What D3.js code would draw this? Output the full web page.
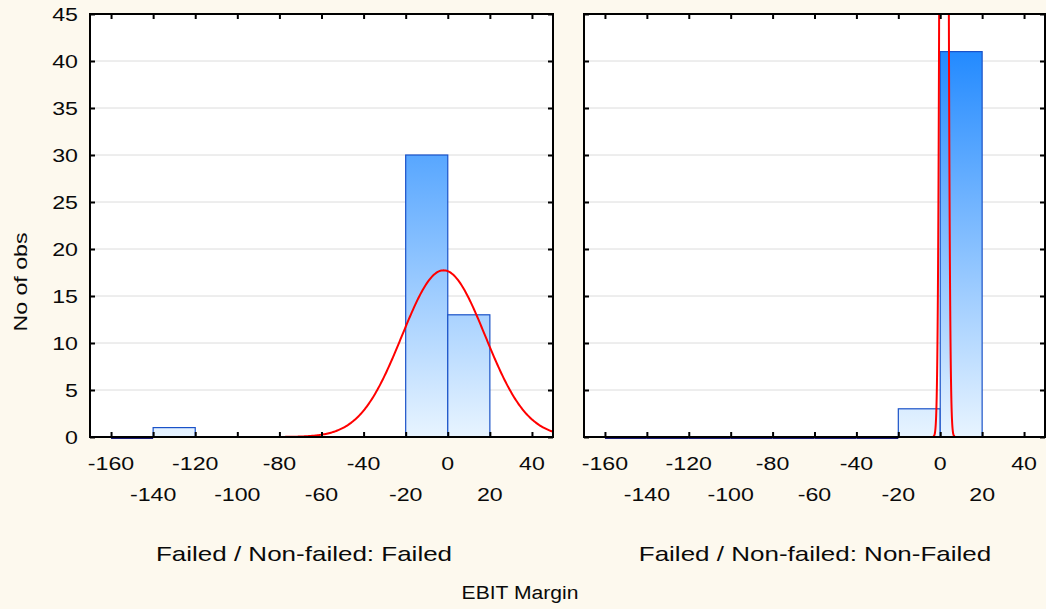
<!DOCTYPE html>
<html>
<head>
<meta charset="utf-8">
<script src="https://cdn.jsdelivr.net/npm/d3@7"></script>
<style>
  html, body { margin: 0; padding: 0; background: #fdf9ee; }
  svg { display: block; }
  text { font-family: "Liberation Sans", Arial, sans-serif; fill: #0a0a0a; }
</style>
</head>
<body>
<svg id="chart" width="1046" height="609"></svg>
<script>
// ---- data ----
const binStarts = [-160, -140, -120, -100, -80, -60, -40, -20, 0];
const binWidth = 20;
const failedCounts = [0, 1, null, null, null, null, null, 30, 13];
const nonFailedCounts = [0, 0, 0, 0, 0, 0, 0, 3, 41];
const xTicks = [-160, -140, -120, -100, -80, -60, -40, -20, 0, 20, 40];
const yTicks = [0, 5, 10, 15, 20, 25, 30, 35, 40, 45];
const failedFit = { mean: -2, sd: 19.8, n: 44 };
const nonFailedFit = { mean: 1.8, sd: 1.2, n: 44 };
const panelTitles = ["Failed / Non-failed: Failed", "Failed / Non-failed: Non-Failed"];
const yTitle = "No of obs";
const xTitle = "EBIT Margin";

// ---- layout ----
const svg = d3.select("#chart");
const W = 1046, H = 609;
svg.append("rect").attr("width", W).attr("height", H).attr("fill", "#fdf9ee");

const plotTop = 14, plotBottom = 437;
const panels = [
  { x0: 90, x1: 553, counts: failedCounts, fit: failedFit, title: panelTitles[0], titleX: 304, showY: true },
  { x0: 584, x1: 1045, counts: nonFailedCounts, fit: nonFailedFit, title: panelTitles[1], titleX: 815, showY: false }
];
const y = d3.scaleLinear().domain([0, 45]).range([plotBottom, plotTop]);

function label(g, x, yy, txt, anchor, fs, sx, rot) {
  return g.append("text")
    .attr("transform", `translate(${x},${yy})` + (rot ? ` rotate(${rot})` : "") + ` scale(${sx},1)`)
    .attr("text-anchor", anchor || "middle")
    .attr("dominant-baseline", "central")
    .style("font-size", fs + "px")
    .text(txt);
}

const defs = svg.append("defs");
const grad = defs.append("linearGradient").attr("id", "barGrad")
  .attr("gradientUnits", "userSpaceOnUse")
  .attr("x1", 0).attr("x2", 0).attr("y1", plotTop).attr("y2", plotBottom);
grad.append("stop").attr("offset", "0%").attr("stop-color", "#1080ff");
grad.append("stop").attr("offset", "100%").attr("stop-color", "#e8f4ff");

panels.forEach((p, i) => {
  const x = d3.scaleLinear().domain([-170, 50]).range([p.x0, p.x1]);
  const g = svg.append("g");
  g.append("rect").attr("x", p.x0).attr("y", plotTop).attr("width", p.x1 - p.x0).attr("height", plotBottom - plotTop).attr("fill", "#fff");

  // gridlines
  g.append("g").selectAll("line").data(yTicks.filter(v => v > 0 && v < 45)).join("line")
    .attr("x1", p.x0).attr("x2", p.x1).attr("y1", d => y(d)).attr("y2", d => y(d))
    .attr("stroke", "#dcdcdc").attr("stroke-width", 1);

  const clipId = "clip" + i;
  defs.append("clipPath").attr("id", clipId).append("rect")
    .attr("x", p.x0).attr("y", plotTop).attr("width", p.x1 - p.x0).attr("height", plotBottom - plotTop + 3);

  // bars
  const bars = binStarts.map((s, k) => ({ s, v: p.counts[k] })).filter(d => d.v !== null);
  g.append("g").selectAll("rect").data(bars.filter(d => d.v > 0)).join("rect")
    .attr("x", d => x(d.s)).attr("width", d => x(d.s + binWidth) - x(d.s))
    .attr("y", d => y(d.v)).attr("height", d => y(0) - y(d.v))
    .attr("fill", "url(#barGrad)").attr("stroke", "#1a52c8").attr("stroke-width", 1.2);
  g.append("g").selectAll("line").data(bars.filter(d => d.v === 0)).join("line")
    .attr("x1", d => x(d.s)).attr("x2", d => x(d.s + binWidth))
    .attr("y1", y(0) + 1).attr("y2", y(0) + 1)
    .attr("stroke", "#1a1a7a").attr("stroke-width", 2);

  // normal fit curve
  const f = p.fit;
  const step = f.sd < 5 ? 0.02 : 0.5;
  const pts = d3.range(-170, 50 + step, step).map(v => [v,
    f.n * binWidth * Math.exp(-0.5 * Math.pow((v - f.mean) / f.sd, 2)) / (f.sd * Math.sqrt(2 * Math.PI))]);
  g.append("path").attr("clip-path", `url(#${clipId})`)
    .attr("d", d3.line().x(d => x(d[0])).y(d => y(Math.min(d[1], 60)))(pts))
    .attr("fill", "none").attr("stroke", "#ff0000").attr("stroke-width", 2);

  // axes (inward ticks)
  const axB = g.append("g").attr("transform", `translate(0,${plotBottom})`)
    .call(d3.axisBottom(x).tickValues(xTicks).tickSize(-5).tickFormat(""));
  const axT = g.append("g").attr("transform", `translate(0,${plotTop})`)
    .call(d3.axisTop(x).tickValues(xTicks).tickSize(-5).tickFormat(""));
  const axL = g.append("g").attr("transform", `translate(${p.x0},0)`)
    .call(d3.axisLeft(y).tickValues(yTicks).tickSize(-5).tickFormat(""));
  const axR = g.append("g").attr("transform", `translate(${p.x1},0)`)
    .call(d3.axisRight(y).tickValues(yTicks).tickSize(-5).tickFormat(""));
  [axB, axT, axL, axR].forEach(a => {
    a.select(".domain").remove();
    a.selectAll(".tick line").attr("stroke", "#000").attr("stroke-width", 2);
  });
  g.append("rect").attr("x", p.x0).attr("y", plotTop).attr("width", p.x1 - p.x0).attr("height", plotBottom - plotTop)
    .attr("fill", "none").attr("stroke", "#000").attr("stroke-width", 2);

  // x tick labels, two staggered rows
  xTicks.forEach((v, k) => {
    label(g, x(v), k % 2 === 0 ? 463 : 494, String(v), "middle", 19, 1.22);
  });
  if (p.showY) {
    yTicks.forEach(v => label(g, 78, y(v), String(v), "end", 19, 1.22));
  }
  label(g, p.titleX, 554, p.title, "middle", 20, 1.3);
});

label(svg, 20, 282, yTitle, "middle", 19, 1.22, -90);
label(svg, 520, 592, xTitle, "middle", 19, 1.11);
</script>
</body>
</html>
